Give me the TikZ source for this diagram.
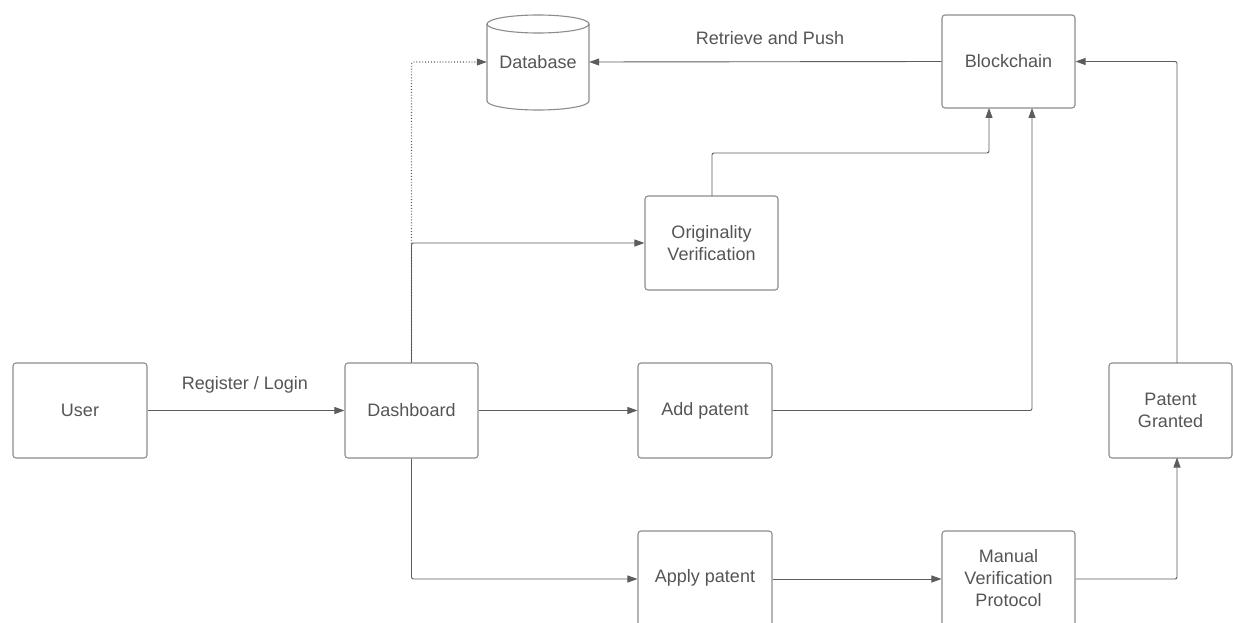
\documentclass[tikz,border=0pt]{standalone}
\usepackage{fontspec}
\setmainfont{Liberation Sans}
\usetikzlibrary{arrows.meta}
\definecolor{edgec}{HTML}{5C5C5C}
\definecolor{boxc}{HTML}{8C8C8C}
\definecolor{txtc}{HTML}{555555}
\tikzset{
  box/.style={draw=boxc, line width=1.1pt, rounded corners=3pt, minimum width=133pt, minimum height=94pt,
    align=center, text=txtc, font=\fontsize{18}{22}\selectfont, inner sep=0pt},
  lbl/.style={text=txtc, font=\fontsize{18}{22}\selectfont, inner sep=0pt},
  conn/.style={draw=edgec, line width=0.9pt, -{Triangle[length=10pt,width=7pt]}, rounded corners=2pt},
  dotconn/.style={conn, dotted, line width=1.1pt},
}
\begin{document}
\begin{tikzpicture}[x=1pt,y=-1pt]
\clip (0,0) rectangle (1233,623);
\fill[white] (0,0) rectangle (1233,623);
% nodes
\node[box, minimum width=134pt, minimum height=95pt] (user) at (80,410.5) {User};
\node[box, minimum height=95pt] (dash) at (411.5,410.5) {Dashboard};
\node[box, minimum width=134pt, minimum height=95pt] (add) at (705,410.5) {Add patent};
\node[box, minimum width=123pt, minimum height=95pt] (grant) at (1170.5,410.5) {Patent\\Granted};
\node[box] (orig) at (711.5,243) {Originality\\Verification};
\node[box, minimum height=93pt] (bc) at (1008.5,61.5) {Blockchain};
\node[box, minimum width=134pt, minimum height=96pt] (apply) at (705,579) {};
\node[lbl] at (705,578) {Apply patent};
\node[box, minimum height=96pt] (manual) at (1008.5,579) {};
\node[lbl, align=center] at (1008.5,578) {Manual\\Verification\\Protocol};
% database cylinder
\draw[boxc, line width=1.1pt, fill=white] (487,24) -- (487,101) arc (180:0:51 and 9) -- (589,24);
\draw[boxc, line width=1.1pt] (538,24) ellipse (51 and 9);
\node[lbl, minimum width=102pt, minimum height=60pt] (db) at (538,62) {Database};
% coordinates
\coordinate (orgtop) at (712,196);
\coordinate (bcin1) at (989,108);
\coordinate (bcin2) at (1032,108);
\coordinate (grtop) at (1177,363);
\coordinate (grbot) at (1177,457.5);
% connectors
\draw[conn] (user.east) -- (dash.west);
\node[lbl] at (245,385) {Register / Login};
\draw[dotconn] (dash.north) |- (db.west);
\draw[conn] (dash.north) |- (orig.west);
\draw[conn] (dash.east) -- (add.west);
\draw[conn] (dash.south) |- (apply.west);
\draw[conn] (orgtop) |- (989,153) -- (bcin1);
\draw[conn] (add.east) -| (bcin2);
\draw[conn] (bc.west) -- (db.east);
\node[lbl] at (770,38) {Retrieve and Push};
\draw[conn] (grtop) |- (bc.east);
\draw[conn] (apply.east) -- (manual.west);
\draw[conn] (manual.east) -| (grbot);
\end{tikzpicture}
\end{document}
